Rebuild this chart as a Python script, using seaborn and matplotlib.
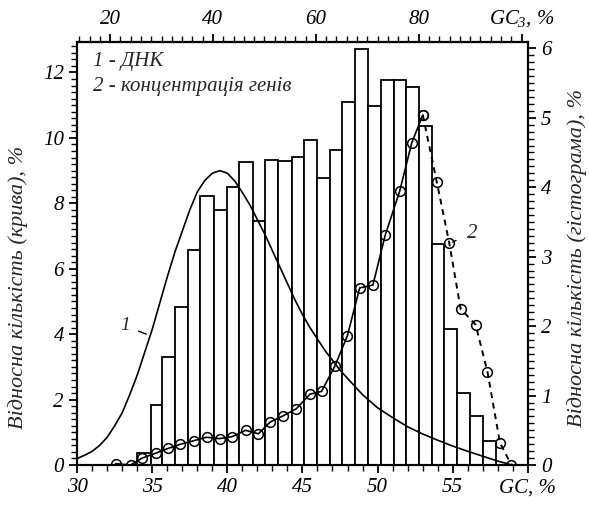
import numpy as np
import matplotlib
matplotlib.use("Agg")
import matplotlib.pyplot as plt
import seaborn as sns
from matplotlib.ticker import MultipleLocator

# curve 1 - DNA distribution (left axis, "крива")
dna_gc = [30.0, 30.5, 31.0, 31.5, 32.0, 32.5, 33.0, 33.5, 34.0, 34.5, 35.0,
          35.5, 36.0, 36.5, 37.0, 37.5, 38.0, 38.5, 39.0, 39.5, 40.0, 40.5,
          41.0, 41.5, 42.0, 42.5, 43.0, 43.5, 44.0, 44.5, 45.0, 45.5, 46.0,
          46.5, 47.0, 47.5, 48.0, 48.5, 49.0, 49.5, 50.0, 51.0, 52.0, 53.0,
          54.0, 55.0, 56.0, 57.0, 58.0, 58.8]
dna_values = [0.2, 0.3, 0.42, 0.6, 0.85, 1.2, 1.6, 2.15, 2.75, 3.45, 4.15,
              4.95, 5.75, 6.5, 7.15, 7.8, 8.35, 8.7, 8.92, 9.0, 8.92, 8.68,
              8.33, 7.95, 7.5, 7.05, 6.55, 6.05, 5.55, 5.05, 4.6, 4.2, 3.85,
              3.5, 3.2, 2.9, 2.65, 2.4, 2.15, 1.95, 1.75, 1.45, 1.17, 0.95,
              0.76, 0.58, 0.42, 0.27, 0.12, 0.02]

# histogram (right axis, "гістограма")
bin_edges = [34.00, 34.89, 35.66, 36.50, 37.36, 38.20, 39.08, 39.97, 40.79,
             41.69, 42.51, 43.35, 44.28, 45.12, 45.94, 46.82, 47.66, 48.52,
             49.36, 50.21, 51.09, 51.90, 52.75, 53.63, 54.45, 55.29, 56.17,
             56.99, 57.87]
hist_values = [0.17, 0.87, 1.56, 2.28, 3.10, 3.87, 3.67, 4.00, 4.36, 3.51,
               4.39, 4.38, 4.43, 4.68, 4.13, 4.54, 5.23, 5.99, 5.17, 5.54,
               5.54, 5.44, 4.88, 3.18, 1.96, 1.04, 0.70, 0.34]

# curve 2 - gene concentration (right axis)
gene_gc = [32.57, 33.56, 34.33, 35.22, 36.07, 36.88, 37.76, 38.62, 39.48,
           40.34, 41.21, 42.07, 42.86, 43.73, 44.59, 45.50, 46.27, 47.15,
           47.99, 48.81, 49.69, 50.51, 51.47, 52.28, 53.01, 53.94, 54.78,
           55.53, 56.53, 57.32, 58.15, 58.91]
gene_values = [0.02, 0.0, 0.10, 0.17, 0.24, 0.30, 0.35, 0.40, 0.38, 0.41,
               0.50, 0.45, 0.62, 0.71, 0.81, 1.02, 1.06, 1.42, 1.86, 2.55,
               2.59, 3.31, 3.94, 4.64, 5.04, 4.08, 3.19, 2.25, 2.02, 1.34,
               0.32, 0.0]

legend_lines = ["1 - ДНК", "2 - концентрація генів"]
bottom_ticks = [30, 35, 40, 45, 50, 55, 60]
bottom_labels = ["30", "35", "40", "45", "50", "55", "GC, %"]
top_ticks = [20, 40, 60, 80, 100]
top_labels = ["20", "40", "60", "80", r"$GC_3$, %"]

sns.set_theme(style="ticks")
plt.rcParams['font.family'] = ['Liberation Serif', 'DejaVu Serif']
plt.rcParams['font.style'] = 'italic'
plt.rcParams['mathtext.fontset'] = 'custom'
plt.rcParams['mathtext.rm'] = 'Liberation Serif:italic'
plt.rcParams['mathtext.it'] = 'Liberation Serif:italic'

fig = plt.figure(figsize=(5.89, 5.09), dpi=100)
ax = fig.add_axes([0.131, 0.0864, 0.765, 0.831])
ax2 = ax.twinx()
ax.set_zorder(ax2.get_zorder() + 1)
ax.patch.set_visible(False)

centers = [(a + b) / 2 for a, b in zip(bin_edges[:-1], bin_edges[1:])]
sns.histplot(x=centers, weights=hist_values, bins=bin_edges, ax=ax2,
             color='white', edgecolor='black', linewidth=1.3, alpha=1)

sns.lineplot(x=dna_gc, y=dna_values, ax=ax, color='black', lw=1.2,
             sort=False, estimator=None)

peak = int(np.argmax(gene_values))
sns.lineplot(x=gene_gc[:peak + 1], y=gene_values[:peak + 1], ax=ax2,
             color='black', lw=1.2, marker='o', markersize=7,
             markerfacecolor='none', markeredgecolor='black', mew=1.1,
             sort=False, estimator=None)
sns.lineplot(x=gene_gc[peak:], y=gene_values[peak:], ax=ax2,
             color='black', lw=1.4, linestyle=(0, (3, 2.5)), marker='o',
             markersize=7, markerfacecolor='none', markeredgecolor='black',
             mew=1.1, sort=False, estimator=None)

ax.set_xlim(30, 60)
ax.set_ylim(0, 12.93)
ax2.set_ylim(0, 6.09)

fs = 15
ax.set_xticks(bottom_ticks, labels=bottom_labels)
ax.xaxis.set_minor_locator(MultipleLocator(1))
ax.yaxis.set_major_locator(MultipleLocator(2))
ax.yaxis.set_minor_locator(MultipleLocator(0.2))
ax2.yaxis.set_major_locator(MultipleLocator(1))
ax2.yaxis.set_minor_locator(MultipleLocator(0.1))

to_gc3 = lambda x: 13.6 + (np.asarray(x) - 30.0) * 2.92
to_gc = lambda t: 30.0 + (np.asarray(t) - 13.6) / 2.92
secax = ax.secondary_xaxis('top', functions=(to_gc3, to_gc))
secax.set_xticks(top_ticks, labels=top_labels)
secax.xaxis.set_minor_locator(MultipleLocator(2))

for a in (ax, ax2, secax):
    a.tick_params(which='major', direction='out', length=6, width=1.3,
                  labelsize=fs, colors='black')
    a.tick_params(which='minor', direction='out', length=4, width=1.0,
                  color='black')
for a in (ax, ax2):
    for s in a.spines.values():
        s.set_linewidth(1.5)
        s.set_color('black')
for s in secax.spines.values():
    s.set_linewidth(1.5)

ax.set_xlabel("")
ax2.set_xlabel("")
ax.set_ylabel("Відносна кількість (крива), %", fontsize=16)
ax2.set_ylabel("Відносна кількість (гістограма), %", fontsize=16,
               rotation=90)
ax.yaxis.set_label_coords(-0.109, 0.42)
ax2.yaxis.set_label_coords(1.088, 0.49)

ax.text(0.035, 0.953, legend_lines[0], transform=ax.transAxes, fontsize=15,
        va='center', ha='left')
ax.text(0.035, 0.894, legend_lines[1], transform=ax.transAxes, fontsize=15,
        va='center', ha='left')

ax.annotate("1", xy=(34.6, 4.0), xytext=(33.2, 4.25), fontsize=14,
            ha='center', va='center',
            arrowprops=dict(arrowstyle='-', color='black', lw=1,
                            shrinkA=4, shrinkB=0))
ax2.annotate("2", xy=(55.0, 3.21), xytext=(56.3, 3.34), fontsize=15,
             ha='center', va='center',
             arrowprops=dict(arrowstyle='-', color='black', lw=1,
                             shrinkA=6, shrinkB=4))

fig.savefig("out.png", dpi=100)
